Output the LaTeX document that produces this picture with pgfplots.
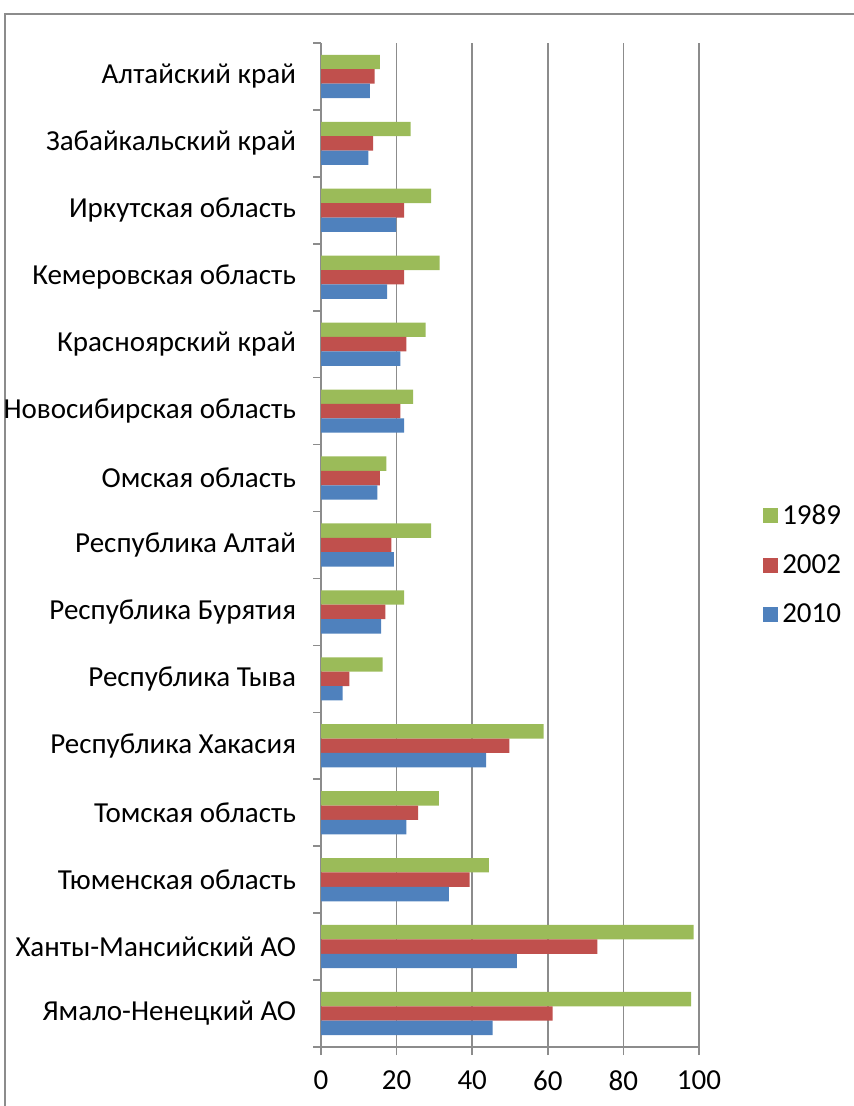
\documentclass[border=0pt]{standalone}
\usepackage{fontspec}
\setmainfont{Carlito}
\usepackage{pgfplots}
\pgfplotsset{compat=1.18}
\definecolor{cgreen}{HTML}{9BBB59}
\definecolor{cred}{HTML}{C0504D}
\definecolor{cblue}{HTML}{4F81BD}
\definecolor{cgrid}{HTML}{8C8C8C}
\begin{document}
\begin{tikzpicture}
\useasboundingbox (0,0) rectangle (427pt,553pt);
\draw[cgrid, line width=1.2pt] (2.5pt,0) -- (2.5pt,546pt) -- (427pt,546pt);
\begin{axis}[
  at={(160.5pt,29.5pt)}, anchor=south west,
  scale only axis, width=189pt, height=502pt,
  xbar, bar width=7.2pt,
  xmin=0, xmax=100, ymin=-0.5, ymax=14.5,
  enlargelimits=false,
  axis x line*=bottom, axis y line*=left,
  axis line style={cgrid, line width=0.8pt},
  xtick={0,20,40,60,80,100},
  xmajorgrids, grid style={cgrid, line width=0.8pt},
  ytick={0,...,14},
  minor ytick={-0.5,0.5,...,14.5},
  yticklabels={Ямало-Ненецкий АО, Ханты-Мансийский АО, Тюменская область, Томская область, Республика Хакасия, Республика Тыва, Республика Бурятия, Республика Алтай, Омская область, Новосибирская область, Красноярский край, Кемеровская область, Иркутская область, Забайкальский край, Алтайский край},
  tick align=outside,
  major tick length=4pt,
  x tick style={cgrid, line width=0.8pt},
  y tick style={draw=none},
  minor y tick style={draw=cgrid, line width=0.8pt},
  minor tick length=4pt,
  /pgf/number format/assume math mode=true,
  tick label style={font=\fontsize{14.5}{17}\selectfont, text=black},
  yticklabel style={xshift=-5pt},
  xticklabel style={yshift=-4.5pt},
  legend style={at={(axis description cs:1.169,0.48)}, anchor=west, draw=none, fill=none, font=\fontsize{14.5}{17}\selectfont, row sep=9.8pt, inner sep=0pt},
  legend cell align=left,
  legend image code/.code={\fill[#1] (0pt,-3.75pt) rectangle (7.5pt,3.75pt);},
]
\addplot[fill=cgreen, draw=none, bar shift=7.2pt] coordinates {
(97.9,0) (98.6,1) (44.4,2) (31.2,3) (58.9,4) (16.3,5) (22.0,6) (29.1,7) (17.3,8) (24.4,9) (27.7,10) (31.4,11) (29.1,12) (23.7,13) (15.6,14)};
\addplot[fill=cred, draw=none, bar shift=0pt] coordinates {
(61.3,0) (73.1,1) (39.3,2) (25.7,3) (49.8,4) (7.5,5) (17.0,6) (18.6,7) (15.6,8) (21.0,9) (22.6,10) (22.0,11) (22.0,12) (13.8,13) (14.2,14)};
\addplot[fill=cblue, draw=none, bar shift=-7.2pt] coordinates {
(45.4,0) (51.8,1) (33.8,2) (22.6,3) (43.7,4) (5.7,5) (15.9,6) (19.3,7) (14.9,8) (22.0,9) (21.0,10) (17.5,11) (19.9,12) (12.5,13) (12.9,14)};
\legend{1989,2002,2010}
\end{axis}
\end{tikzpicture}
\end{document}
